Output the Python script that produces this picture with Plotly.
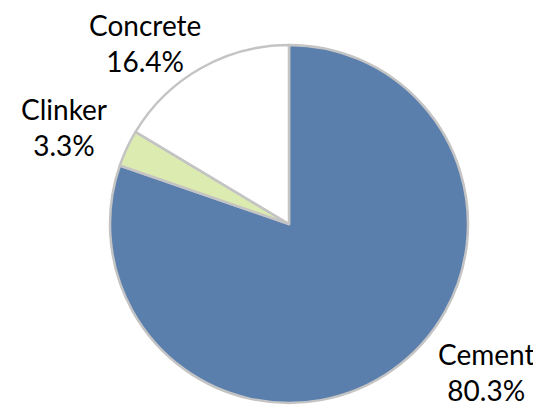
import plotly.graph_objects as go

labels = ["Cement", "Clinker", "Concrete"]
values = [80.3, 3.3, 16.4]
colors = ["#5A7FAD", "#DCEBB0", "#FFFFFF"]

W, H = 541, 410
OFF = 8  # page body margin
cx, cy, r = 289 - OFF, 224 - OFF, 179

fig = go.Figure(go.Pie(
    labels=labels, values=values, sort=False, direction="clockwise", rotation=0,
    marker=dict(colors=colors, line=dict(color="#C4C4C4", width=2.5)),
    textinfo="none", hoverinfo="label+percent", showlegend=False,
    domain=dict(x=[(cx - r) / W, (cx + r) / W], y=[(H - cy - r) / H, (H - cy + r) / H]),
))

# label anchor positions (pixels) for each category
label_pos = {"Concrete": (145, 43), "Clinker": (64, 127), "Cement": (486, 372)}
total = sum(values)
for lab, v in zip(labels, values):
    px, py = label_pos[lab]
    fig.add_annotation(
        x=(px - OFF) / W, y=1 - (py - OFF) / H, xref="paper", yref="paper",
        text=f"{lab}<br>{v / total * 100:.1f}%", showarrow=False,
        font=dict(family="Lato", size=28, color="#000000"),
        xanchor="center", yanchor="middle", align="center", borderpad=0,
    )

fig.update_layout(
    width=W, height=H, margin=dict(l=0, r=0, t=0, b=0),
    paper_bgcolor="white", plot_bgcolor="white",
)
fig.write_html("out.html")
